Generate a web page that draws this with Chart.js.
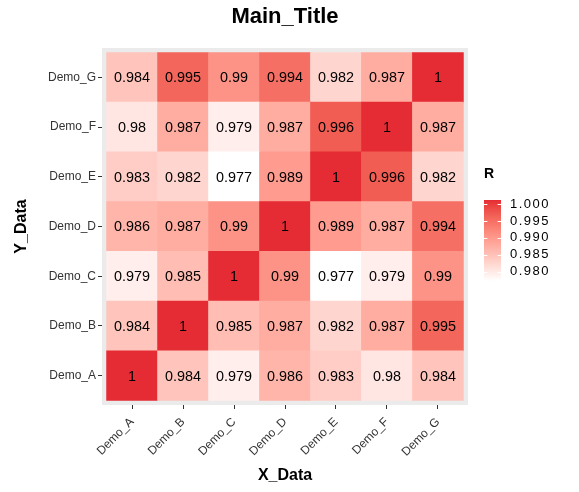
<!DOCTYPE html>
<html>
<head>
<meta charset="utf-8">
<script src="https://cdn.jsdelivr.net/npm/chart.js@4.4.1/dist/chart.umd.min.js"></script>
<style>
  html, body { margin: 0; padding: 0; background: #fff; }
  canvas { display: block; }
</style>
</head>
<body>
<canvas id="heatmap" width="579" height="492"></canvas>
<script>
// Correlation heatmap (R values), ggplot look-alike

const xLabels = ['Demo_A', 'Demo_B', 'Demo_C', 'Demo_D', 'Demo_E', 'Demo_F', 'Demo_G'];
const yLabels = ['Demo_A', 'Demo_B', 'Demo_C', 'Demo_D', 'Demo_E', 'Demo_F', 'Demo_G'];

// one array per Y row, values left to right (Demo_A .. Demo_G)
const rowA = [1, 0.984, 0.979, 0.986, 0.983, 0.98, 0.984];
const rowB = [0.984, 1, 0.985, 0.987, 0.982, 0.987, 0.995];
const rowC = [0.979, 0.985, 1, 0.99, 0.977, 0.979, 0.99];
const rowD = [0.986, 0.987, 0.99, 1, 0.989, 0.987, 0.994];
const rowE = [0.983, 0.982, 0.977, 0.989, 1, 0.996, 0.982];
const rowF = [0.98, 0.987, 0.979, 0.987, 0.996, 1, 0.987];
const rowG = [0.984, 0.995, 0.99, 0.994, 0.982, 0.987, 1];

const legendTicks = [1.000, 0.995, 0.990, 0.985, 0.980];

const rows = [rowA, rowB, rowC, rowD, rowE, rowF, rowG];

const LOW = '#FFFFFF';
const HIGH = '#E52B33';
const FONT = '"Liberation Sans", Arial, Helvetica, sans-serif';

const allValues = [].concat(...rows);
const vMin = Math.min(...allValues);
const vMax = Math.max(...allValues);

// colour ramp in CIELAB, like scales::seq_gradient_pal
function hexToRgb(h) {
    const n = parseInt(h.slice(1), 16);
    return [(n >> 16) & 255, (n >> 8) & 255, n & 255];
}

function toLab(rgb) {
    const lin = rgb.map(c => {
        c /= 255;
        return c <= 0.04045 ? c / 12.92 : Math.pow((c + 0.055) / 1.055, 2.4);
    });
    const X = (0.4124 * lin[0] + 0.3576 * lin[1] + 0.1805 * lin[2]) / 0.95047;
    const Y = (0.2126 * lin[0] + 0.7152 * lin[1] + 0.0722 * lin[2]);
    const Z = (0.0193 * lin[0] + 0.1192 * lin[1] + 0.9505 * lin[2]) / 1.08883;
    const f = t => t > 0.008856 ? Math.cbrt(t) : 7.787 * t + 16 / 116;
    const fx = f(X), fy = f(Y), fz = f(Z);
    return [116 * fy - 16, 500 * (fx - fy), 200 * (fy - fz)];
}

function fromLab(lab) {
    const fy = (lab[0] + 16) / 116;
    const fx = fy + lab[1] / 500;
    const fz = fy - lab[2] / 200;
    const inv = t => t * t * t > 0.008856 ? t * t * t : (t - 16 / 116) / 7.787;
    const X = inv(fx) * 0.95047, Y = inv(fy), Z = inv(fz) * 1.08883;
    const lin = [
        3.2406 * X - 1.5372 * Y - 0.4986 * Z,
        -0.9689 * X + 1.8758 * Y + 0.0415 * Z,
        0.0557 * X - 0.2040 * Y + 1.0570 * Z
    ];
    return lin.map(c => {
        c = c <= 0.0031308 ? 12.92 * c : 1.055 * Math.pow(c, 1 / 2.4) - 0.055;
        return Math.round(Math.min(1, Math.max(0, c)) * 255);
    });
}

const labLow = toLab(hexToRgb(LOW));
const labHigh = toLab(hexToRgb(HIGH));

function fillFor(v) {
    const t = Math.min(1, Math.max(0, (v - vMin) / (vMax - vMin)));
    const lab = labLow.map((c, i) => c + (labHigh[i] - c) * t);
    const [r, g, b] = fromLab(lab);
    return `rgb(${r},${g},${b})`;
}

// each row is a dataset of floating bars one unit tall
const datasets = rows.map((row, i) => ({
    label: yLabels[i],
    data: row.map((v, j) => ({ x: j + 1, y: [i + 0.5, i + 1.5] })),
    backgroundColor: row.map(fillFor),
    borderWidth: 0,
    barPercentage: 1,
    categoryPercentage: 1,
    grouped: false
}));

const panelBackground = {
    id: 'panelBackground',
    beforeDatasetsDraw(chart) {
        const { ctx, chartArea: a } = chart;
        ctx.save();
        ctx.fillStyle = '#EBEBEB';
        ctx.fillRect(a.left, a.top, a.right - a.left, a.bottom - a.top);
        ctx.restore();
    }
};

const cellLabels = {
    id: 'cellLabels',
    afterDatasetsDraw(chart) {
        const { ctx, scales } = chart;
        ctx.save();
        ctx.font = `14.4px ${FONT}`;
        ctx.fillStyle = '#000';
        ctx.textAlign = 'center';
        ctx.textBaseline = 'middle';
        rows.forEach((row, i) => {
            row.forEach((v, j) => {
                ctx.fillText(String(v), scales.x.getPixelForValue(j + 1), scales.y.getPixelForValue(i + 1) + 1);
            });
        });
        ctx.restore();
    }
};

const titleAndLegend = {
    id: 'titleAndLegend',
    afterDraw(chart) {
        const { ctx, chartArea: a } = chart;
        ctx.save();

        // main title, centred over the panel
        ctx.font = `bold 22px ${FONT}`;
        ctx.fillStyle = '#000';
        ctx.textAlign = 'center';
        ctx.textBaseline = 'middle';
        ctx.fillText('Main_Title', (a.left + a.right) / 2, 16.6);

        // colour bar legend
        const barX = 484, barW = 17, barTop = 200, barBottom = 281;
        const tickY = v => 204 + (1 - v) * 3385;

        ctx.font = `bold 14px ${FONT}`;
        ctx.textAlign = 'left';
        ctx.fillText('R', barX, 174.5);

        const grad = ctx.createLinearGradient(0, barBottom, 0, barTop);
        for (let k = 0; k <= 20; k++) {
            grad.addColorStop(k / 20, fillFor(vMin + (vMax - vMin) * k / 20));
        }
        ctx.fillStyle = grad;
        ctx.fillRect(barX, barTop, barW, barBottom - barTop);

        ctx.strokeStyle = '#fff';
        ctx.lineWidth = 1;
        legendTicks.forEach(v => {
            const y = Math.round(tickY(v)) + 0.5;
            ctx.beginPath();
            ctx.moveTo(barX, y); ctx.lineTo(barX + 3.4, y);
            ctx.moveTo(barX + barW - 3.4, y); ctx.lineTo(barX + barW, y);
            ctx.stroke();
        });

        ctx.font = `13px ${FONT}`;
        if ('letterSpacing' in ctx) ctx.letterSpacing = '1.5px';
        ctx.fillStyle = '#000';
        legendTicks.forEach(v => {
            ctx.fillText(v.toFixed(3), 510, tickY(v));
        });

        ctx.restore();
    }
};

const axisCommon = {
    type: 'linear',
    min: 0.41,
    max: 7.59,
    offset: false,
    border: { display: false },
    grid: { offset: false, drawOnChartArea: false, drawTicks: true, tickLength: 4, color: '#333333' },
};

new Chart(document.getElementById('heatmap'), {
    type: 'bar',
    data: { datasets: datasets },
    options: {
        responsive: false,
        animation: false,
        layout: { padding: { top: 48, right: 111, bottom: 0, left: 0 } },
        plugins: {
            legend: { display: false },
            tooltip: { enabled: false },
            title: { display: false }
        },
        scales: {
            x: {
                ...axisCommon,
                afterBuildTicks: s => { s.ticks = xLabels.map((_, i) => ({ value: i + 1 })); },
                afterFit: s => { s.height = 87; },
                ticks: {
                    callback: v => xLabels[v - 1],
                    autoSkip: false,
                    minRotation: 45,
                    maxRotation: 45,
                    padding: 6,
                    color: '#333333',
                    font: { family: FONT, size: 12 }
                },
                title: {
                    display: true,
                    text: 'X_Data',
                    color: '#000',
                    font: { family: FONT, size: 16, weight: 'bold' },
                    padding: { top: 0, bottom: 6.6 }
                }
            },
            y: {
                ...axisCommon,
                afterBuildTicks: s => { s.ticks = yLabels.map((_, i) => ({ value: i + 1 })); },
                afterFit: s => { s.width = 102; },
                ticks: {
                    callback: v => yLabels[v - 1],
                    autoSkip: false,
                    padding: 2,
                    color: '#333333',
                    font: { family: FONT, size: 12 }
                },
                title: {
                    display: true,
                    text: 'Y_Data',
                    color: '#000',
                    font: { family: FONT, size: 16, weight: 'bold' },
                    padding: { top: 12.3, bottom: 0 }
                }
            }
        }
    },
    plugins: [panelBackground, cellLabels, titleAndLegend]
});
</script>
</body>
</html>
